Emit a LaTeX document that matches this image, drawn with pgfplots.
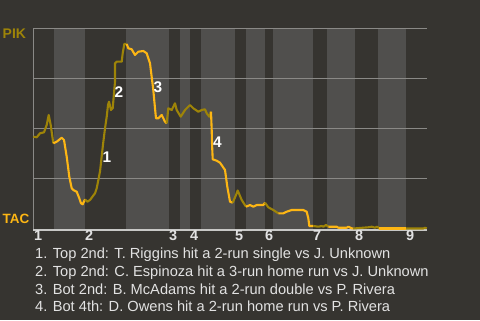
\documentclass[border=0pt]{standalone}
\usepackage{pgfplots}
\pgfplotsset{compat=1.18}
\usepackage{fontspec}
\setmainfont{Liberation Sans}

\definecolor{bg}{RGB}{54,52,48}
\definecolor{band}{RGB}{80,79,77}
\definecolor{gridc}{RGB}{138,137,134}
\definecolor{axisc}{RGB}{200,200,198}
\definecolor{pik}{RGB}{158,132,8}
\definecolor{tac}{RGB}{253,182,20}
\definecolor{txt}{RGB}{226,226,226}

\pgfplotsset{
  pikline/.style={pik, line width=2.1bp, line join=round, forget plot},
  tacline/.style={tac, line width=2.1bp, line join=round, forget plot},
  halfband/.style={fill=band, draw=none, forget plot},
}

\begin{document}
\begin{tikzpicture}[x=1bp,y=1bp]
\fill[bg] (0,0) rectangle (480,320);

\begin{axis}[
  at={(33bp,90bp)}, anchor=south west,
  scale only axis, width=394bp, height=201.5bp,
  xmin=33, xmax=427, ymin=-0.75, ymax=100,
  axis lines=none,
  clip=false,
]
% bottom-half innings (home team batting)
\addplot[halfband] coordinates {(54,-0.75) (54,100) (85,100) (85,-0.75)} -- cycle;
\addplot[halfband] coordinates {(126,-0.75) (126,100) (169,100) (169,-0.75)} -- cycle;
\addplot[halfband] coordinates {(180,-0.75) (180,100) (190,100) (190,-0.75)} -- cycle;
\addplot[halfband] coordinates {(201,-0.75) (201,100) (235,100) (235,-0.75)} -- cycle;
\addplot[halfband] coordinates {(246,-0.75) (246,100) (265,100) (265,-0.75)} -- cycle;
\addplot[halfband] coordinates {(273,-0.75) (273,100) (313,100) (313,-0.75)} -- cycle;
\addplot[halfband] coordinates {(327,-0.75) (327,100) (355,100) (355,-0.75)} -- cycle;
\addplot[halfband] coordinates {(378,-0.75) (378,100) (406,100) (406,-0.75)} -- cycle;

% grid and frame
\draw[gridc, line width=1bp] (axis cs:33,25) -- (axis cs:427,25);
\draw[gridc, line width=1bp] (axis cs:33,50) -- (axis cs:427,50);
\draw[gridc, line width=1bp] (axis cs:33,75) -- (axis cs:427,75);
\draw[gridc, line width=1bp] (axis cs:33,100) -- (axis cs:427,100);
\draw[gridc, line width=1bp] (axis cs:33,-0.75) -- (axis cs:33,100);
\draw[axisc, line width=1.5bp] (axis cs:33,-0.75) -- (axis cs:427,-0.75);

% win probability (100 = PIK, 0 = TAC)
\addplot[pikline] coordinates {(33.3,45.9) (36.7,45.6) (40,47.6) (44,48.1) (46.7,51.75) (48.7,56.75) (50.7,51.75) (53.3,42.6)};
\addplot[tacline] coordinates {(53.3,42.6) (56.7,43.4) (61.7,45.4) (64,44.25) (66.7,35.9) (69.3,25.9) (71.7,20.1) (73.3,19.25) (76.7,18.4) (79.3,15.1) (81,12.6) (82.7,12.1) (85,14.6)};
\addplot[pikline] coordinates {(85,14.6) (87.3,13.4) (90,14.25) (95,17.6) (96.7,20.1) (100,28.5) (103,42) (105,50) (106.7,55.9) (108,61.75) (109,63.4) (111,59.25) (112.7,60.1) (115,73.4) (115,82.6) (116.7,83.4) (121.7,83.4) (122.7,87.6) (124.3,92.25) (126.7,92.25)};
\addplot[tacline] coordinates {(126.7,92.25) (128.3,90.1) (131.7,89.6) (135,86.75) (138.3,88.4) (143.3,88.75) (146.7,87.6) (150,82.6) (151.7,75.75) (153.3,69.25) (155,60.1) (156,55.1) (158.3,55.1) (161.7,56.75) (165,53.4) (166.7,52.6)};
\addplot[pikline] coordinates {(166.7,52.6) (168.3,60.1) (171.7,59.25) (175,62.6) (176.7,59.25) (180.7,55.9) (185,59.25) (190,61.75) (193.3,60.1) (198.3,58.4) (201.7,59.25) (205,59.6) (206.7,57.6) (209.3,55.9) (211,58.4)};
\addplot[tacline] coordinates {(211,58.4) (211.7,49.25) (212,42.6) (212.7,34.6) (216.7,33.9) (220,32.9) (225,29.25) (227.3,20.9) (230,13.4) (232.7,12.9)};
\addplot[pikline] coordinates {(232.7,12.9) (236,16.75) (237.7,19) (241.7,14.25) (246,10.9)};
\addplot[tacline] coordinates {(246,10.9) (250,11.75) (253.3,10.9) (256.7,11.75) (263.3,11.75) (265,12.9)};
\addplot[pikline] coordinates {(265,12.9) (268.3,10.6) (273.3,9.25) (278.3,7.6)};
\addplot[tacline] coordinates {(278.3,7.6) (283.3,7.6) (286.7,8.4) (291.7,9.25) (303.3,9.25) (306.7,8.4) (308.3,5.1) (309.3,1.25) (313.3,1.25)};
\addplot[pikline] coordinates {(313.3,1.25) (318.3,0.9) (321.7,1.25) (323.3,0.9) (326,1.75) (328.3,0.9)};
\addplot[tacline] coordinates {(328.3,0.9) (336.7,0.9) (338.3,0.4) (346.7,0.4) (348.3,0.9) (351.7,0.1) (353.3,0)};
\addplot[pikline] coordinates {(353.3,0) (368.3,0.6) (371.7,0.9) (375,0.4) (377.3,0.9) (379.3,0)};
\addplot[tacline] coordinates {(379.3,0) (406,0)};
\addplot[pikline] coordinates {(406,0) (423.3,0) (425,0.4) (426.7,0)};

% key plays
\node[font=\bfseries\fontsize{15.5}{16}\selectfont, text=white, inner sep=0pt] at (axis cs:107,35.9) {1};
\node[font=\bfseries\fontsize{15.5}{16}\selectfont, text=white, inner sep=0pt] at (axis cs:119,68) {2};
\node[font=\bfseries\fontsize{15.5}{16}\selectfont, text=white, inner sep=0pt] at (axis cs:158,70.5) {3};
\node[font=\bfseries\fontsize{15.5}{16}\selectfont, text=white, inner sep=0pt] at (axis cs:217.5,43) {4};
\end{axis}

% team labels
\node[anchor=west, inner sep=0pt, text=pik, font=\bfseries\fontsize{14}{14}\selectfont] at (2.5,286.3) {PIK};
\node[anchor=west, inner sep=0pt, text=tac, font=\bfseries\fontsize{13.5}{14}\selectfont] at (2.5,100.7) {TAC};

% inning numbers
\begin{scope}[font=\bfseries\fontsize{14.5}{15}\selectfont, text=txt, inner sep=0pt, anchor=west]
\node at (34,84.2) {1};
\node at (85,84.2) {2};
\node at (169,84.2) {3};
\node at (190,84.2) {4};
\node at (235,84.2) {5};
\node at (265,84.2) {6};
\node at (313,84.2) {7};
\node at (355,84.2) {8};
\node at (406,84.2) {9};
\end{scope}

% play descriptions
\begin{scope}[font=\fontsize{14.7}{15}\selectfont, text=txt, inner sep=0pt, anchor=base west]
\node at (35,61.7) {1. Top 2nd: T. Riggins hit a 2-run single vs J. Unknown};
\node at (35,44) {2. Top 2nd: C. Espinoza hit a 3-run home run vs J. Unknown};
\node at (35,26) {3. Bot 2nd: B. McAdams hit a 2-run double vs P. Rivera};
\node at (35,8.3) {4. Bot 4th: D. Owens hit a 2-run home run vs P. Rivera};
\end{scope}
\end{tikzpicture}
\end{document}
